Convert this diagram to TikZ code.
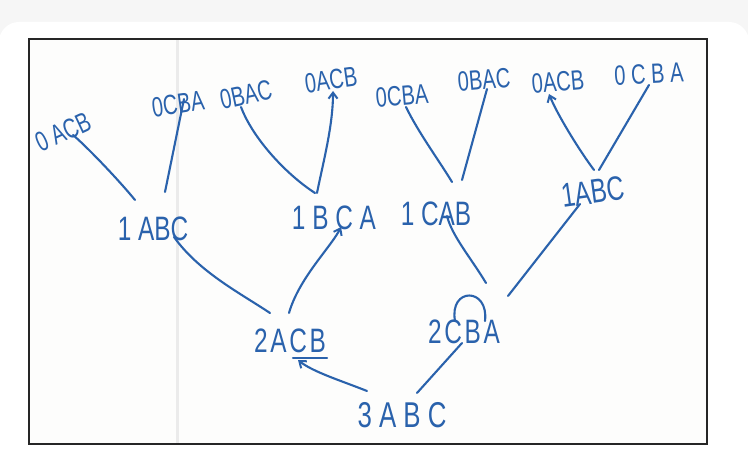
\documentclass[tikz,border=0pt]{standalone}
\usepackage{fontspec}
\setmainfont{Liberation Sans}
\newfontfamily\hand{Liberation Sans}[FakeStretch=0.72]
\newfontfamily\handsp{Liberation Sans}[FakeStretch=0.72,LetterSpace=8]
\usetikzlibrary{arrows.meta}
\definecolor{ink}{RGB}{42,98,172}
\definecolor{outer}{RGB}{246,246,246}
\definecolor{paper}{RGB}{253,253,252}
\begin{document}
\begin{tikzpicture}[x=1bp,y=-1bp,
  leaf/.style={text=ink,inner sep=0pt,font=\hand\fontsize{28}{28}\selectfont},
  mid/.style={text=ink,inner sep=0pt,font=\hand\fontsize{34}{34}\selectfont},
  low/.style={text=ink,inner sep=0pt,font=\handsp\fontsize{34}{34}\selectfont},
  root/.style={text=ink,inner sep=0pt,font=\hand\fontsize{36}{36}\selectfont},
  edge/.style={draw=ink,line width=2.1bp,line cap=round,line join=round},
  tip/.style={-{Straight Barb[length=6bp,width=9bp,line width=2bp]}}]
\useasboundingbox (0,0) rectangle (748,471);
\fill[outer] (0,0) rectangle (748,471);
\fill[white,rounded corners=20bp] (-1,22) rectangle (749,500);
\fill[paper] (29,39) rectangle (707,444);
\draw[black!8,line width=3bp] (177,40) -- (177,443);
\draw[black!85,line width=1.3bp] (29,39) rectangle (707,444);

% leaves
\node[leaf,rotate=25] (L1) at (63,132) {0 ACB};
\node[leaf,rotate=8]  (L2) at (178,104) {0CBA};
\node[leaf,rotate=12] (L3) at (246,95) {0BAC};
\node[leaf,rotate=8]  (L4) at (331,80) {0ACB};
\node[leaf,rotate=5]  (L5) at (402,96) {0CBA};
\node[leaf,rotate=5]  (L6) at (484,80) {0BAC};
\node[leaf,rotate=5]  (L7) at (558,82) {0ACB};
\node[leaf,rotate=3]  (L8) at (649,74) {0 C B A};
% middle
\node[mid] (M1) at (153,229) {1 ABC};
\node[mid] (M2) at (334,218) {1 B C A};
\node[mid] (M3) at (436,214) {1 CAB};
\node[mid,rotate=8] (M4) at (593,192) {1ABC};
% lower
\node[low] (B1) at (290,341) {2ACB};
\node[low] (B2) at (464,332) {2CBA};
\node[root] (R) at (402,415) {3 A B C};

% connectors
\draw[edge] ([shift={(10,3)}]L1.center) .. controls +(12,10) and +(-18,-22) .. ([shift={(-18,-29)}]M1.center);
\draw[edge] ([shift={(6,-5)}]L2.center) -- ([shift={(12,-37)}]M1.center);
\draw[edge] ([shift={(-5,12)}]L3.center) .. controls +(12,32) and +(-28,-18) .. ([shift={(-19,-25)}]M2.center);
\draw[edge,tip] ([shift={(-17,-25)}]M2.center) .. controls +(6,-30) and +(0,35) .. ([shift={(2,11)}]L4.center);
\draw[edge] ([shift={(4,11)}]L5.center) .. controls +(12,25) and +(-12,-20) .. ([shift={(16,-32)}]M3.center);
\draw[edge] ([shift={(3,9)}]L6.center) -- ([shift={(26,-34)}]M3.center);
\draw[edge,tip] ([shift={(1,-22)}]M4.center) .. controls +(-15,-20) and +(8,20) .. ([shift={(-9,12)}]L7.center);
\draw[edge] ([shift={(0,11)}]L8.center) -- ([shift={(6,-22)}]M4.center);
\draw[edge] ([shift={(21,8)}]M1.center) .. controls +(25,35) and +(-30,-20) .. ([shift={(-20,-28)}]B1.center);
\draw[edge,tip] ([shift={(-1,-28)}]B1.center) .. controls +(10,-35) and +(-10,20) .. ([shift={(7,9)}]M2.center);
\draw[edge] ([shift={(11,2)}]M3.center) .. controls +(5,20) and +(-15,-25) .. ([shift={(22,-49)}]B2.center);
\draw[edge] ([shift={(44,-36)}]B2.center) -- ([shift={(-13,12)}]M4.center);
\draw[edge,tip] ([shift={(-35,-24)}]R.center) .. controls +(-25,-10) and +(15,12) .. ([shift={(8,19)}]B1.center);
\draw[edge] ([shift={(15,-22)}]R.center) -- ([shift={(-2,11)}]B2.center);

% marks on the words
\draw[edge] ([shift={(-9,-11)}]B2.center) .. controls +(-6,-34) and +(4,-34) .. ([shift={(21,-11)}]B2.center);
\draw[edge] ([shift={(3,17)}]B1.center) -- ([shift={(37,17)}]B1.center);
\end{tikzpicture}
\end{document}
